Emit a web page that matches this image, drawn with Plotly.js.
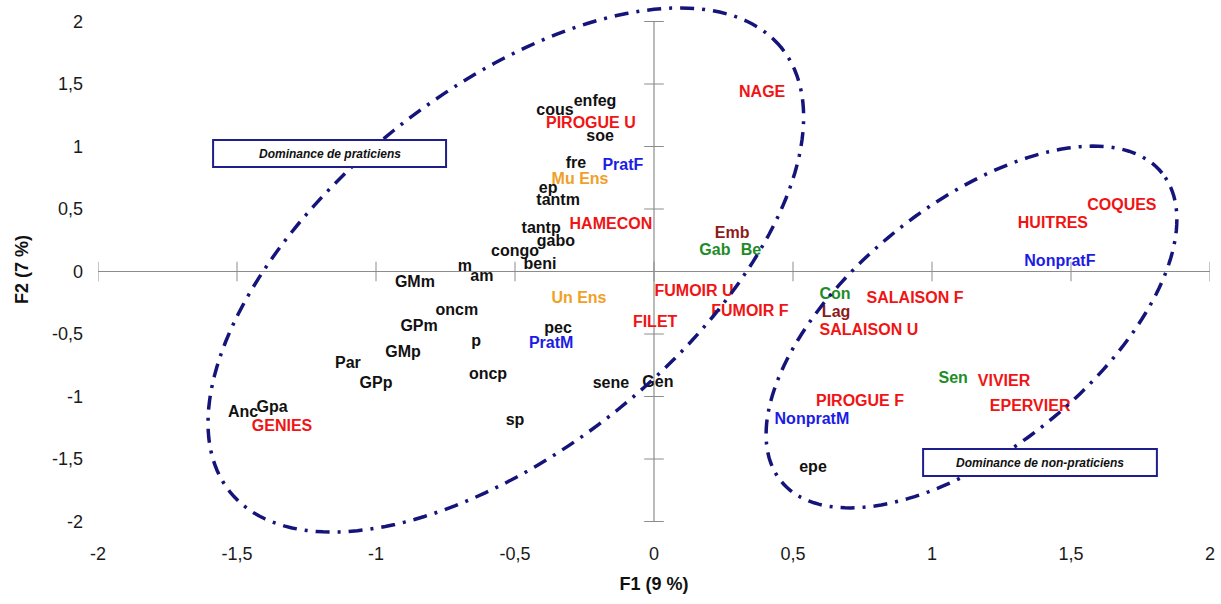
<!DOCTYPE html>
<html><head><meta charset="utf-8">
<script src="https://cdn.plot.ly/plotly-3.0.1.min.js"></script>
<style>html,body{margin:0;padding:0;background:#fff}#chart{width:1221px;height:604px}</style>
</head><body><div id="chart"></div>
<script>
// ---- Data (F1, F2 coordinates) ----
const varLabels = ['cous','enfeg','soe','fre','ep','tantm','tantp','gabo','congo','beni','m','am','GMm','oncm','GPm','pec','p','GMp','Par','oncp','GPp','sene','Gen','sp','Anc','Gpa','epe'];
const varX = [-0.356,-0.212,-0.194,-0.281,-0.381,-0.345,-0.406,-0.353,-0.500,-0.410,-0.680,-0.619,-0.860,-0.709,-0.845,-0.345,-0.640,-0.903,-1.101,-0.597,-1.000,-0.155,0.014,-0.500,-1.478,-1.374,0.572];
const varY = [1.284,1.356,1.076,0.860,0.660,0.564,0.340,0.236,0.156,0.052,0.036,-0.044,-0.092,-0.316,-0.444,-0.460,-0.564,-0.652,-0.740,-0.828,-0.900,-0.900,-0.892,-1.196,-1.132,-1.092,-1.572];

const gearLabels = ['NAGE','PIROGUE U','HAMECON','FUMOIR U','FUMOIR F','FILET','SALAISON F','SALAISON U','COQUES','HUITRES','VIVIER','EPERVIER','PIROGUE F','GENIES'];
const gearX = [0.389,-0.227,-0.155,0.144,0.345,0.004,0.939,0.773,1.683,1.435,1.259,1.353,0.741,-1.338];
const gearY = [1.428,1.180,0.372,-0.164,-0.324,-0.412,-0.220,-0.476,0.524,0.380,-0.884,-1.084,-1.044,-1.244];

const ensLabels = ['Mu Ens','Un Ens'];
const ensX = [-0.266,-0.270];
const ensY = [0.732,-0.220];

const pratLabels = ['PratF','PratM','NonpratF','NonpratM'];
const pratX = [-0.112,-0.370,1.460,0.568];
const pratY = [0.844,-0.580,0.076,-1.188];

const siteLabels = ['Gab','Be','Con','Sen'];
const siteX = [0.219,0.349,0.651,1.076];
const siteY = [0.164,0.164,-0.188,-0.860];

const originLabels = ['Emb','Lag'];
const originX = [0.281,0.655];
const originY = [0.300,-0.332];

const tickVals = [-2,-1.5,-1,-0.5,0,0.5,1,1.5,2];
const tickText = ['-2','-1,5','-1','-0,5','0','0,5','1','1,5','2'];

const boxTexts = ['Dominance de praticiens','Dominance de non-praticiens'];

// ---- Layout geometry ----
const W = 1221, H = 604;
const margin = {l:98, r:11, t:3, b:68};
const xRange = [-2, 2];
const yRange = [-2.116, 2.148];
const pxX = (W - margin.l - margin.r) / (xRange[1] - xRange[0]);
const pxY = (H - margin.t - margin.b) / (yRange[1] - yRange[0]);

function ellipsePath(cx, cy, aPx, bPx, deg) {
  const th = deg * Math.PI / 180, n = 180;
  let d = '';
  for (let i = 0; i <= n; i++) {
    const t = 2 * Math.PI * i / n;
    const u = aPx * Math.cos(t), v = bPx * Math.sin(t);
    const dx = u * Math.cos(th) - v * Math.sin(th);
    const dy = u * Math.sin(th) + v * Math.cos(th);
    d += (i ? 'L' : 'M') + (cx + dx / pxX).toFixed(4) + ',' + (cy + dy / pxY).toFixed(4);
  }
  return d + 'Z';
}

const FONT = 'Liberation Sans, Arial, sans-serif';
function labelTrace(txt, xs, ys, color) {
  return {type:'scatter', mode:'text', x:xs, y:ys, text:txt, textposition:'middle center',
    textfont:{family:FONT, size:16, color:color, weight:'bold'}, hoverinfo:'text', showlegend:false, cliponaxis:false};
}

const axisColor = '#8c8c8c';
const traces = [
  {type:'scatter', mode:'markers', x:tickVals, y:tickVals.map(()=>0), hoverinfo:'skip', showlegend:false,
   marker:{symbol:'line-ns', size:14, line:{color:axisColor, width:1}}},
  {type:'scatter', mode:'markers', x:tickVals.map(()=>0), y:tickVals, hoverinfo:'skip', showlegend:false,
   marker:{symbol:'line-ew', size:14, line:{color:axisColor, width:1}}},
  labelTrace(varLabels, varX, varY, '#111111'),
  labelTrace(gearLabels, gearX, gearY, '#f01414'),
  labelTrace(ensLabels, ensX, ensY, '#f0a028'),
  labelTrace(pratLabels, pratX, pratY, '#1c1ce6'),
  labelTrace(siteLabels, siteX, siteY, '#1e8c28'),
  labelTrace(originLabels, originX, originY, '#8c1c1c')
];

const navy = '#14147a';
const shapes = [
  {type:'line', xref:'x', yref:'y', x0:-2, x1:2, y0:0, y1:0, layer:'below', line:{color:axisColor, width:1.2}},
  {type:'line', xref:'x', yref:'y', x0:0, x1:0, y0:-2, y1:2, layer:'below', line:{color:axisColor, width:1.2}},
  {type:'path', xref:'x', yref:'y', path:ellipsePath(-0.533, 0.012, 354, 179, 38.8), layer:'above',
   line:{color:navy, width:3.5, dash:'14px,8px,3px,8px'}},
  {type:'path', xref:'x', yref:'y', path:ellipsePath(1.142, -0.444, 245, 122, 38.95), layer:'above',
   line:{color:navy, width:3.5, dash:'14px,8px,3px,8px'}},
  {type:'rect', xref:'x', yref:'y', x0:-1.586, x1:-0.748, y0:0.836, y1:1.052, layer:'above',
   fillcolor:'#ffffff', line:{color:'#1e1e8c', width:2}},
  {type:'rect', xref:'x', yref:'y', x0:0.968, x1:1.809, y0:-1.636, y1:-1.420, layer:'above',
   fillcolor:'#ffffff', line:{color:'#1e1e8c', width:2}}
];

const annotations = [
  {xref:'x', yref:'y', x:-1.167, y:0.944, text:'<i>'+boxTexts[0]+'</i>', showarrow:false,
   font:{family:FONT, size:12, color:'#111', weight:'bold'}},
  {xref:'x', yref:'y', x:1.388, y:-1.528, text:'<i>'+boxTexts[1]+'</i>', showarrow:false,
   font:{family:FONT, size:12, color:'#111', weight:'bold'}}
];

const layout = {
  width:W, height:H, margin:margin, paper_bgcolor:'#fff', plot_bgcolor:'#fff',
  showlegend:false, shapes:shapes, annotations:annotations,
  xaxis:{range:xRange, showgrid:false, zeroline:false, showline:false, ticks:'',
    tickvals:tickVals, ticktext:tickText, ticklabelstandoff:5,
    tickfont:{family:FONT, size:18, color:'#1a1a1a'},
    title:{text:'F1 (9 %)', font:{family:FONT, size:18, color:'#111', weight:'bold'}, standoff:14}},
  yaxis:{range:yRange, showgrid:false, zeroline:false, showline:false, ticks:'',
    tickvals:tickVals, ticktext:tickText, ticklabelstandoff:14,
    tickfont:{family:FONT, size:18, color:'#1a1a1a'},
    title:{text:'F2 (7 %)', font:{family:FONT, size:18, color:'#111', weight:'bold'}, standoff:18}}
};

Plotly.newPlot('chart', traces, layout, {staticPlot:true, displayModeBar:false});
</script>
</body></html>
